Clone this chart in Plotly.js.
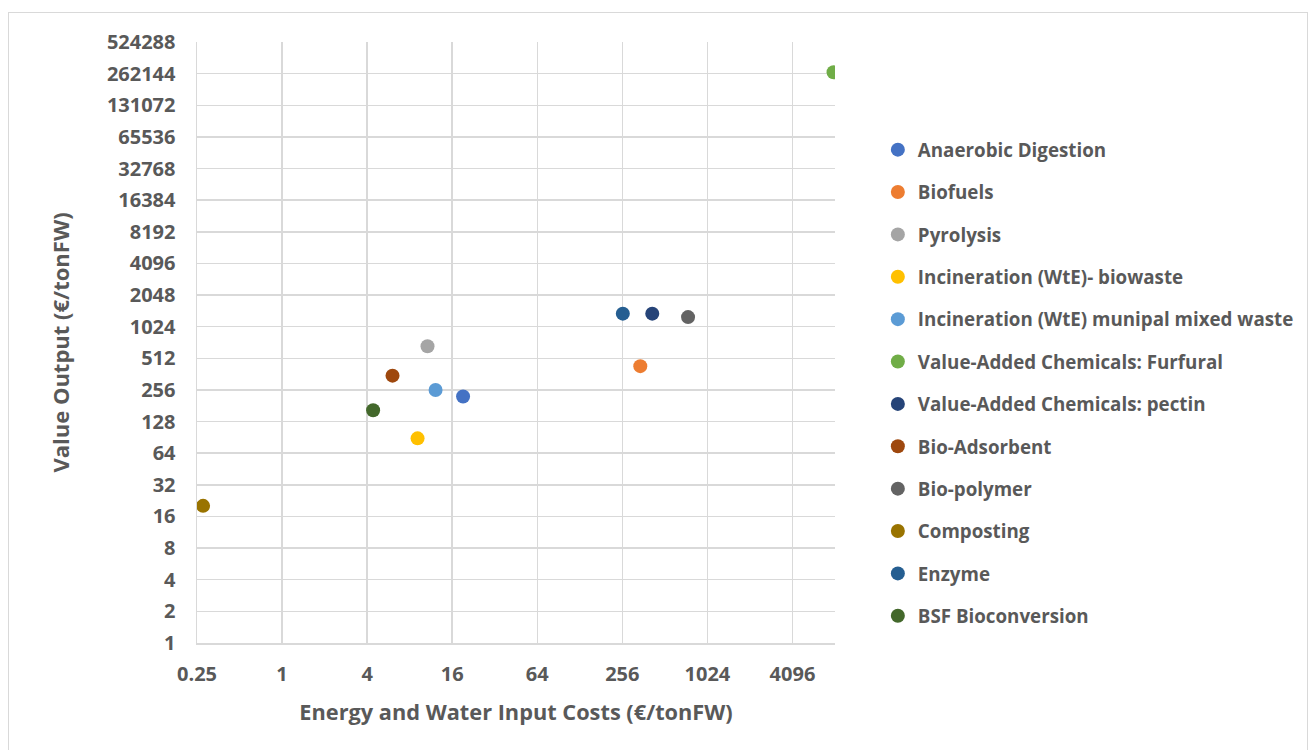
<!DOCTYPE html>
<html>
<head>
<meta charset="utf-8">
<script src="https://cdn.plot.ly/plotly-3.0.1.min.js"></script>
<style>
  html, body { margin: 0; padding: 0; background: #ffffff; }
  #frame { position: absolute; left: 8px; top: 12px; width: 1300px; height: 750px; border: 1px solid #D9D9D9; box-sizing: border-box; }
  #chart { position: absolute; left: 0; top: 0; width: 1310px; height: 750px; }
</style>
</head>
<body>
<div id="frame"></div>
<div id="chart"></div>
<script>
const methods = [
  'Anaerobic Digestion',
  'Biofuels',
  'Pyrolysis',
  'Incineration (WtE)- biowaste',
  'Incineration (WtE) munipal mixed waste',
  'Value-Added Chemicals: Furfural',
  'Value-Added Chemicals: pectin',
  'Bio-Adsorbent',
  'Bio-polymer',
  'Composting',
  'Enzyme',
  'BSF Bioconversion'
];
const inputCost = [19.1, 343, 10.7, 9.1, 12.2, 8000, 417, 6.05, 747, 0.276, 258, 4.41];
const valueOutput = [222, 431, 666, 88.6, 256, 270000, 1362, 350, 1264, 20.2, 1362, 164];
const colors = ['#4472C4', '#ED7D31', '#A5A5A5', '#FFC000', '#5B9BD5', '#70AD47',
                '#264478', '#9E480E', '#636363', '#997300', '#255E91', '#43682B'];
const xTickVals = [0.25, 1, 4, 16, 64, 256, 1024, 4096];
const xTickText = ['0.25', '1', '4', '16', '64', '256', '1024', '4096'];
const yTickVals = [1, 2, 4, 8, 16, 32, 64, 128, 256, 512, 1024, 2048, 4096, 8192, 16384,
                   32768, 65536, 131072, 262144, 524288];
const yTickText = yTickVals.map(String);
const xMax = 8192;

const FONT = '"Open Sans", Lato, sans-serif';
const TXT = '#595959';
const GRID = '#D9D9D9';

const traces = methods.map((m, i) => ({
  type: 'scatter',
  mode: 'markers',
  name: m,
  legendgroup: 'g' + i,
  x: [inputCost[i]],
  y: [valueOutput[i]],
  marker: { color: colors[i], size: 14, line: { width: 0 } },
  hoverinfo: 'name+x+y'
}));

const layout = {
  width: 1310,
  height: 750,
  paper_bgcolor: 'rgba(0,0,0,0)',
  plot_bgcolor: '#ffffff',
  margin: { l: 197, r: 474, t: 42, b: 107, pad: 0 },
  font: { family: FONT, color: TXT, size: 18 },
  showlegend: true,
  legend: {
    x: 1.0655, xanchor: 'left',
    y: 0.852, yanchor: 'top',
    font: { family: FONT, size: 18.75, color: TXT, weight: 700 },
    tracegroupgap: 15,
    itemwidth: 30,
    borderwidth: 0,
    bgcolor: 'rgba(0,0,0,0)'
  },
  xaxis: {
    type: 'log',
    range: [Math.log10(0.25), Math.log10(xMax)],
    tickvals: xTickVals,
    ticktext: xTickText,
    tickfont: { family: FONT, size: 20, color: TXT, weight: 700 },
    ticks: '',
    ticklabelstandoff: 12,
    showgrid: true,
    gridcolor: GRID,
    gridwidth: 1.5,
    showline: true,
    linecolor: GRID,
    linewidth: 1.5,
    zeroline: false,
    title: { text: 'Energy and Water Input Costs (€/tonFW)', font: { family: FONT, size: 21.75, color: TXT, weight: 700 }, standoff: 19 }
  },
  yaxis: {
    type: 'log',
    range: [0, Math.log10(524288)],
    tickvals: yTickVals,
    ticktext: yTickText,
    tickfont: { family: FONT, size: 20, color: TXT, weight: 700 },
    ticks: '',
    ticklabelstandoff: 16,
    showgrid: true,
    gridcolor: GRID,
    gridwidth: 1.5,
    showline: true,
    linecolor: GRID,
    linewidth: 1.5,
    zeroline: false,
    title: { text: 'Value Output (€/tonFW)', font: { family: FONT, size: 22, color: TXT, weight: 700 }, standoff: 31 }
  }
};

Plotly.newPlot('chart', traces, layout, { displayModeBar: false, staticPlot: true });
</script>
</body>
</html>
